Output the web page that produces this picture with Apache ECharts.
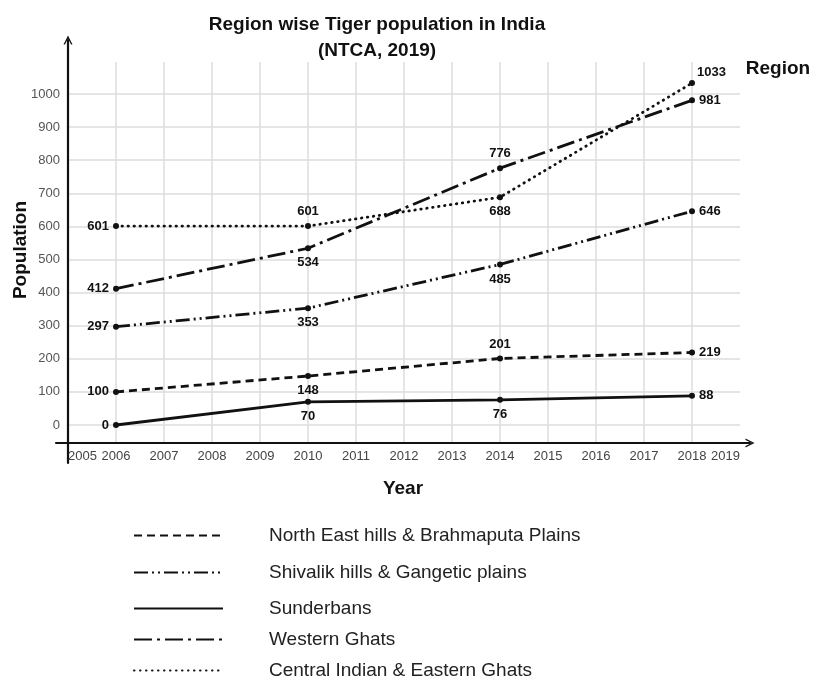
<!DOCTYPE html>
<html>
<head>
<meta charset="utf-8">
<script src="https://cdn.jsdelivr.net/npm/echarts@6/dist/echarts.min.js"></script>
<style>
  html, body { margin: 0; padding: 0; background: #fff; }
  #chart { width: 813px; height: 682px; }
</style>
</head>
<body>
<div id="chart"></div>
<script>
/* data ---------------------------------- */
const years = [2006, 2010, 2014, 2018]
const regionNames = [
    'North East hills & Brahmaputa Plains',
    'Shivalik hills & Gangetic plains',
    'Sunderbans',
    'Western Ghats',
    'Central Indian & Eastern Ghats'
]
const northEast = [100, 148, 201, 219]
const shivalik = [297, 353, 485, 646]
const sunderbans = [0, 70, 76, 88]
const westernGhats = [412, 534, 776, 981]
const centralIndian = [601, 601, 688, 1033]
const yTicks = [0, 1000, 100]      // min, max, step of the labelled axis
const xTicks = [2005, 2019, 1]     // min, max, step of the year axis

/* styles -------------------------------- */
const FONT = '"Liberation Sans", Arial, sans-serif'
const INK = '#111'
const GRID = '#dcdcdc'

const lineKinds = [
    { type: [8, 5], cap: 'butt' },                 // dashed
    { type: [14, 4, 2, 4, 2, 4], cap: 'butt' },    // dash dot dot
    { type: 'solid', cap: 'butt' },                // solid
    { type: [18, 5, 3, 5], cap: 'butt' },          // dash dot
    { type: [0.5, 5.5], cap: 'round' }             // dotted
]
const labelSides = [
    ['left', 'bottom', 'top', 'right'],
    ['left', 'bottom', 'bottom', 'right'],
    ['left', 'bottom', 'bottom', 'right'],
    ['left', 'bottom', 'top', 'right'],
    ['left', 'top', 'bottom', 'topRight']
]
const legendRows = [533, 570, 606, 637, 668]

const seriesValues = [northEast, shivalik, sunderbans, westernGhats, centralIndian]

const makeLabel = (side) => {
    if (side === 'topRight') {
        return { position: 'right', offset: [-3, -11] }
    }
    return { position: side, distance: side === 'left' || side === 'right' ? 4 : 5 }
}

const series = seriesValues.map((vals, s) => ({
    name: regionNames[s],
    type: 'line',
    xAxisIndex: 0,
    yAxisIndex: 0,
    clip: false,
    symbol: 'circle',
    symbolSize: 6,
    z: 5,
    itemStyle: { color: INK },
    lineStyle: {
        color: INK,
        width: 2.8,
        type: lineKinds[s].type,
        cap: lineKinds[s].cap
    },
    label: {
        show: true,
        color: INK,
        fontFamily: FONT,
        fontWeight: 'bold',
        fontSize: 13
    },
    data: years.map((yr, i) => ({
        value: [yr, vals[i]],
        label: makeLabel(labelSides[s][i])
    }))
}))

const legends = regionNames.map((name, i) => ({
    data: [name],
    orient: 'vertical',
    left: 133,
    top: legendRows[i] - 7,
    padding: 0,
    itemWidth: 89,
    itemHeight: 14,
    selectedMode: false,
    itemStyle: { color: 'transparent', borderColor: 'transparent', borderWidth: 0 },
    textStyle: {
        fontFamily: FONT,
        fontSize: 19,
        color: '#222',
        padding: [0, 0, 0, 41]
    }
}))

const arrowPath = 'path://M0,10 L5,0 L10,10 L8.4,10 L5,3.2 L1.6,10 Z'

const chart = echarts.init(document.getElementById('chart'))
chart.setOption({
    animation: false,
    backgroundColor: '#fff',
    grid: [
        { left: 68, width: 672, top: 94, height: 331 },   // plot
        { left: 68, width: 672, top: 62, height: 381 },   // frame: vertical grid + year labels
        { left: 56, width: 694, top: 62, height: 381 },   // x axis line
        { left: 68, width: 672, top: 40, height: 423 }    // y axis line
    ],
    xAxis: [
        { gridIndex: 0, type: 'value', min: xTicks[0], max: xTicks[1], show: false },
        {
            gridIndex: 1, type: 'value', min: xTicks[0], max: xTicks[1], interval: xTicks[2],
            axisLine: { show: false },
            axisTick: { show: false },
            axisLabel: {
                formatter: (v) => String(v),
                color: '#444', fontFamily: FONT, fontSize: 13, margin: 7,
                alignMinLabel: 'left', alignMaxLabel: 'right'
            },
            splitLine: {
                show: true, showMinLine: false, showMaxLine: false,
                lineStyle: { color: GRID, width: 1.5 }
            }
        },
        {
            gridIndex: 2, type: 'value', min: 0, max: 1,
            axisLine: {
                show: true, symbol: ['none', arrowPath], symbolSize: [13, 9],
                lineStyle: { color: INK, width: 2.2 }
            },
            axisTick: { show: false }, axisLabel: { show: false }, splitLine: { show: false }
        },
        { gridIndex: 3, type: 'value', min: 0, max: 1, show: false }
    ],
    yAxis: [
        {
            gridIndex: 0, type: 'value', min: yTicks[0], max: yTicks[1], interval: yTicks[2],
            axisLine: { show: false },
            axisTick: { show: false },
            axisLabel: { formatter: (v) => String(v), color: '#555', fontFamily: FONT, fontSize: 13, margin: 8 },
            splitLine: { lineStyle: { color: GRID, width: 1.5 } }
        },
        { gridIndex: 1, type: 'value', min: 0, max: 1, show: false },
        { gridIndex: 2, type: 'value', min: 0, max: 1, show: false },
        {
            gridIndex: 3, type: 'value', min: 0, max: 1,
            axisLine: {
                show: true, symbol: ['none', arrowPath], symbolSize: [13, 9],
                lineStyle: { color: INK, width: 2.2 }
            },
            axisTick: { show: false }, axisLabel: { show: false }, splitLine: { show: false }
        }
    ],
    legend: legends,
    graphic: [
        {
            type: 'text', x: 377, y: 25,
            style: { text: 'Region wise Tiger population in India', font: 'bold 19px ' + FONT, fill: INK, textAlign: 'center', textVerticalAlign: 'middle' }
        },
        {
            type: 'text', x: 377, y: 51,
            style: { text: '(NTCA, 2019)', font: 'bold 19px ' + FONT, fill: INK, textAlign: 'center', textVerticalAlign: 'middle' }
        },
        {
            type: 'text', x: 778, y: 69,
            style: { text: 'Region', font: 'bold 19px ' + FONT, fill: INK, textAlign: 'center', textVerticalAlign: 'middle' }
        },
        {
            type: 'text', x: 21, y: 250, rotation: Math.PI / 2,
            style: { text: 'Population', font: 'bold 19px ' + FONT, fill: INK, textAlign: 'center', textVerticalAlign: 'middle' }
        },
        {
            type: 'text', x: 403, y: 489,
            style: { text: 'Year', font: 'bold 19px ' + FONT, fill: INK, textAlign: 'center', textVerticalAlign: 'middle' }
        }
    ],
    series: series
})
</script>
</body>
</html>
